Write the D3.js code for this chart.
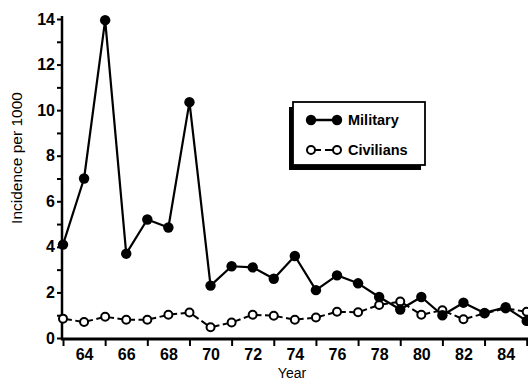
<!DOCTYPE html>
<html>
<head>
<meta charset="utf-8">
<script src="https://cdn.jsdelivr.net/npm/d3@7"></script>
<style>
  html, body { margin: 0; padding: 0; background: #fff; }
  svg { display: block; font-family: "Liberation Sans", Arial, Helvetica, sans-serif; }
</style>
</head>
<body>
<svg id="chart" width="528" height="380"></svg>
<script>
// ---- data ----
const years = [63,64,65,66,67,68,69,70,71,72,73,74,75,76,77,78,79,80,81,82,83,84,85];
const military = [4.1,7.0,13.95,3.7,5.2,4.85,10.35,2.3,3.15,3.1,2.6,3.6,2.1,2.75,2.4,1.8,1.25,1.8,1.0,1.55,1.1,1.35,0.75];
const civilians = [0.85,0.7,0.93,0.8,0.8,1.02,1.12,0.47,0.68,1.02,0.98,0.8,0.9,1.15,1.13,1.45,1.6,1.02,1.22,0.82,1.08,1.3,1.15];
const yTicks = [0,1,2,3,4,5,6,7,8,9,10,11,12,13,14];
const yTickLabels = ["0","","2","","4","","6","","8","","10","","12","","14"];
const xTickLabels = ["","64","","66","","68","","70","","72","","74","","76","","78","","80","","82","","84",""];
const seriesNames = ["Military","Civilians"];
const yTitle = "Incidence per 1000";
const xTitle = "Year";

// ---- layout ----
const svg = d3.select("#chart");
const x = d3.scaleLinear().domain([63, 85]).range([63, 526.7]);
const y = d3.scaleLinear().domain([0, 14]).range([338, 19]);

// y axis
const yAxis = d3.axisLeft(y)
  .tickValues(yTicks)
  .tickFormat((d, i) => yTickLabels[i])
  .tickSize(5).tickSizeOuter(0).tickPadding(2);
const gy = svg.append("g").attr("transform", "translate(62,0)").call(yAxis);
gy.select(".domain").remove();
gy.selectAll(".tick line").attr("stroke", "#000").attr("stroke-width", 2);
gy.selectAll(".tick text").attr("font-size", 16).attr("font-weight", "bold")
  .attr("fill", "#000").attr("font-family", "Liberation Sans, Arial, sans-serif");
svg.append("line").attr("x1", 62).attr("x2", 62)
  .attr("y1", y(14) - 3).attr("y2", y(0) + 2)
  .attr("stroke", "#000").attr("stroke-width", 2.5);

// x axis
const xAxis = d3.axisBottom(x)
  .tickValues(years)
  .tickFormat((d, i) => xTickLabels[i])
  .tickSize(7).tickSizeOuter(0).tickPadding(3);
const gx = svg.append("g").attr("transform", "translate(0,339)").call(xAxis);
gx.select(".domain").remove();
gx.selectAll(".tick line").attr("stroke", "#000").attr("stroke-width", 2)
  .attr("y2", (d, i) => xTickLabels[i] === "" ? 7 : 0);
gx.selectAll(".tick text").attr("font-size", 16).attr("font-weight", "bold")
  .attr("fill", "#000").attr("font-family", "Liberation Sans, Arial, sans-serif");
svg.append("line").attr("x1", 61).attr("x2", 528)
  .attr("y1", 339).attr("y2", 339)
  .attr("stroke", "#000").attr("stroke-width", 3);

// axis titles
svg.append("text").attr("x", 292).attr("y", 378)
  .attr("text-anchor", "middle").attr("font-size", 14).attr("fill", "#000")
  .text(xTitle);
svg.append("text")
  .attr("transform", "translate(22,158) rotate(-90)")
  .attr("text-anchor", "middle").attr("font-size", 15.5).attr("fill", "#000")
  .text(yTitle);

// ---- civilians (dashed segments, open circles) ----
const rC = 4;
const civPts = years.map((yr, i) => [x(yr), y(civilians[i])]);
const civSegs = d3.pairs(civPts);
svg.append("g").selectAll("line").data(civSegs).join("line")
  .each(function([a, b]) {
    const dx = b[0] - a[0], dy = b[1] - a[1];
    const L = Math.hypot(dx, dy);
    const ux = dx / L, uy = dy / L;
    const x1 = a[0] + ux * rC, y1 = a[1] + uy * rC;
    const x2 = b[0] - ux * rC, y2 = b[1] - uy * rC;
    const inner = L - 2 * rC;
    const gap = 3.5;
    const d = Math.max((inner - gap) / 2, 1);
    d3.select(this).attr("x1", x1).attr("y1", y1).attr("x2", x2).attr("y2", y2)
      .attr("stroke-dasharray", `${d},${gap},${d + 5}`);
  })
  .attr("stroke", "#000").attr("stroke-width", 2);

// ---- military (solid line, filled circles) ----
const line = d3.line().x((d, i) => x(years[i])).y(d => y(d));
svg.append("path").datum(military)
  .attr("d", line).attr("fill", "none")
  .attr("stroke", "#000").attr("stroke-width", 2.2).attr("stroke-linejoin", "round");

svg.append("g").selectAll("circle").data(civilians).join("circle")
  .attr("cx", (d, i) => x(years[i])).attr("cy", d => y(d))
  .attr("r", rC).attr("fill", "#fff").attr("stroke", "#000").attr("stroke-width", 2);

svg.append("g").selectAll("circle").data(military).join("circle")
  .attr("cx", (d, i) => x(years[i])).attr("cy", d => y(d))
  .attr("r", 5.2).attr("fill", "#000");

// ---- legend ----
const lg = svg.append("g").attr("transform", "translate(293,102)");
lg.append("rect").attr("x", -4).attr("y", 5).attr("width", 132).attr("height", 63).attr("fill", "#000");
lg.append("rect").attr("x", 0).attr("y", 0).attr("width", 132).attr("height", 63)
  .attr("fill", "#fff").attr("stroke", "#000").attr("stroke-width", 1.8);
// Military entry
lg.append("line").attr("x1", 18).attr("x2", 44).attr("y1", 18).attr("y2", 18)
  .attr("stroke", "#000").attr("stroke-width", 2.5);
lg.selectAll("circle.m").data([18, 44]).join("circle").attr("class", "m")
  .attr("cx", d => d).attr("cy", 18).attr("r", 5.2).attr("fill", "#000");
lg.append("text").attr("x", 55).attr("y", 23).attr("font-size", 14.5).attr("font-weight", "bold")
  .attr("fill", "#000").text(seriesNames[0]);
// Civilians entry
lg.append("line").attr("x1", 22).attr("x2", 40).attr("y1", 48).attr("y2", 48)
  .attr("stroke", "#000").attr("stroke-width", 2).attr("stroke-dasharray", "6,4,8");
lg.selectAll("circle.c").data([18, 44]).join("circle").attr("class", "c")
  .attr("cx", d => d).attr("cy", 48).attr("r", rC).attr("fill", "#fff")
  .attr("stroke", "#000").attr("stroke-width", 2);
lg.append("text").attr("x", 55).attr("y", 53).attr("font-size", 14.5).attr("font-weight", "bold")
  .attr("fill", "#000").text(seriesNames[1]);
</script>
</body>
</html>
